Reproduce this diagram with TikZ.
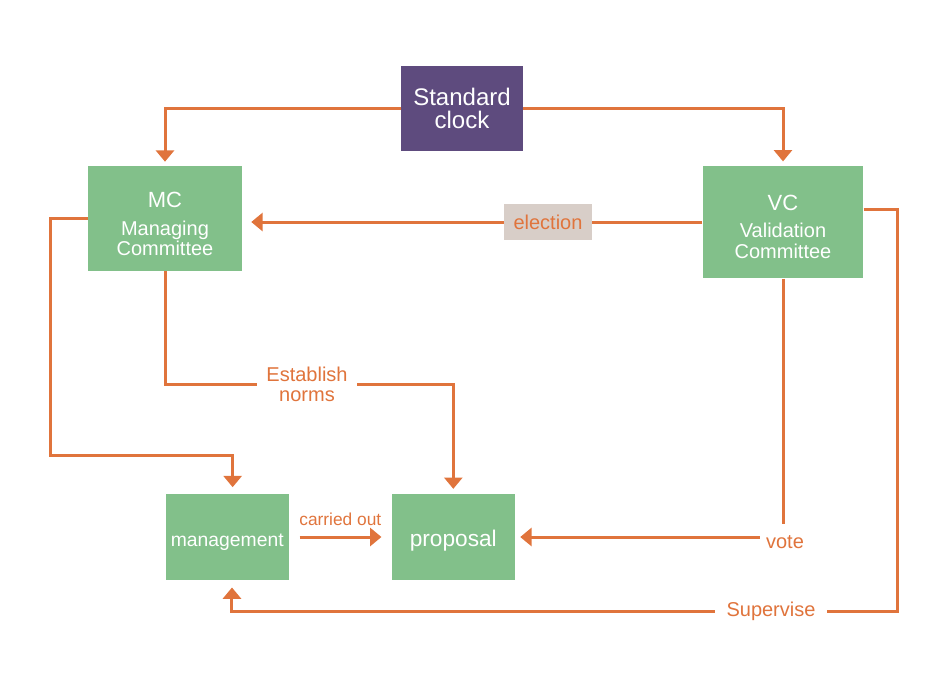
\documentclass[tikz,border=0pt]{standalone}
\usepackage{fontspec}
\setmainfont{Liberation Sans}
\usetikzlibrary{arrows.meta}

\definecolor{clockpurple}{HTML}{5E4B7E}
\definecolor{boxgreen}{HTML}{82C08A}
\definecolor{lineorange}{HTML}{E0743C}
\definecolor{tagbeige}{HTML}{D8CEC8}

\begin{document}
\begin{tikzpicture}[x=0.75pt,y=-0.75pt,
		box/.style={fill=boxgreen,text=white,align=center,inner sep=0pt},
		lowtext/.style={text height=16.5pt,text depth=3pt},
		flow/.style={draw=lineorange,line width=2.25pt,-{Triangle[width=13.5pt,length=8.5pt]}},
		link/.style={draw=lineorange,line width=2.25pt},
		tag/.style={text=lineorange,align=center,inner sep=0pt,font=\fontsize{15}{15}\selectfont}]
		\useasboundingbox (0,0) rectangle (942,679);
	
		\node[box,fill=clockpurple,minimum width=91.5pt,minimum height=63.75pt,font=\fontsize{18}{17}\selectfont] (clock) at (462,108.5) {Standard\\clock};
		
		\node[box,minimum width=115.5pt,minimum height=78.75pt,font=\fontsize{15}{13}\selectfont] (mc) at (165,218.5) {{\fontsize{16.5}{16.5}\selectfont\rule{0pt}{20pt}MC}\\[8pt]Managing\\Committee};
		\node[box,minimum width=120.5pt,minimum height=84.5pt,font=\fontsize{15}{15.5}\selectfont] (vc) at (783,222) {{\fontsize{16.5}{16.5}\selectfont\rule{0pt}{19pt}VC}\\[4.5pt]Validation\\Committee};
		
		\node[box,lowtext,minimum width=92pt,minimum height=64.3pt,font=\fontsize{14.5}{14}\selectfont] (mgmt) at (227.3,537) {management};
		\node[box,lowtext,minimum width=92pt,minimum height=64.3pt,font=\fontsize{17}{16}\selectfont] (prop) at (453.3,537) {proposal};
		
		\node[tag,fill=tagbeige,minimum width=66pt,minimum height=27pt] (elect) at (548,222) {election};
		\node[tag,fill=white,minimum width=75pt] (norms) at (307,384) {Establish\\norms};
		\node[tag,fill=white,minimum width=37.5pt,minimum height=27pt] (vote) at (785,542) {vote};
		\node[tag,fill=white,minimum width=84pt,minimum height=18pt] (sup) at (771,611) {Supervise};
		
		\coordinate (leftbend) at (50.7,455.7);
		\coordinate (rightbend) at (897.8,611);
		
		\draw[flow,shorten >=3pt] (clock.west) -| (mc.north);
		\draw[flow,shorten >=3pt] (clock.east) -| (vc.north);
		
		\draw[link] (vc.west) -- (elect.east);
		\draw[flow,shorten >=6.75pt] (elect.west) -- (elect.west -| mc.east);
		
		\draw[link] (mc.south) |- (norms.west);
		\draw[flow,shorten >=3.75pt] (norms.east) -| (prop.north);
		
		\draw[flow,shorten >=5pt] (mc.west) -| (leftbend) -| ([xshift=4pt]mgmt.north);
		
		\draw[link] (vc.south) -- (vc.south |- vote.north);
		\draw[flow,shorten >=4pt] (vote.west |- prop.east) -- (prop.east);
		
		\draw[link] ([yshift=9.5pt]vc.east) -| (rightbend) -- (sup.east);
		\draw[flow,shorten >=5.5pt] (sup.west) -| ([xshift=3.5pt]mgmt.south);
		
		\draw[flow,shorten <=8pt,shorten >=7.7pt] (mgmt.east) -- (prop.west) node[midway,above=7.5pt,tag,font=\fontsize{13}{13}\selectfont] (carry) {carried out};
	\end{tikzpicture}
\end{document}
